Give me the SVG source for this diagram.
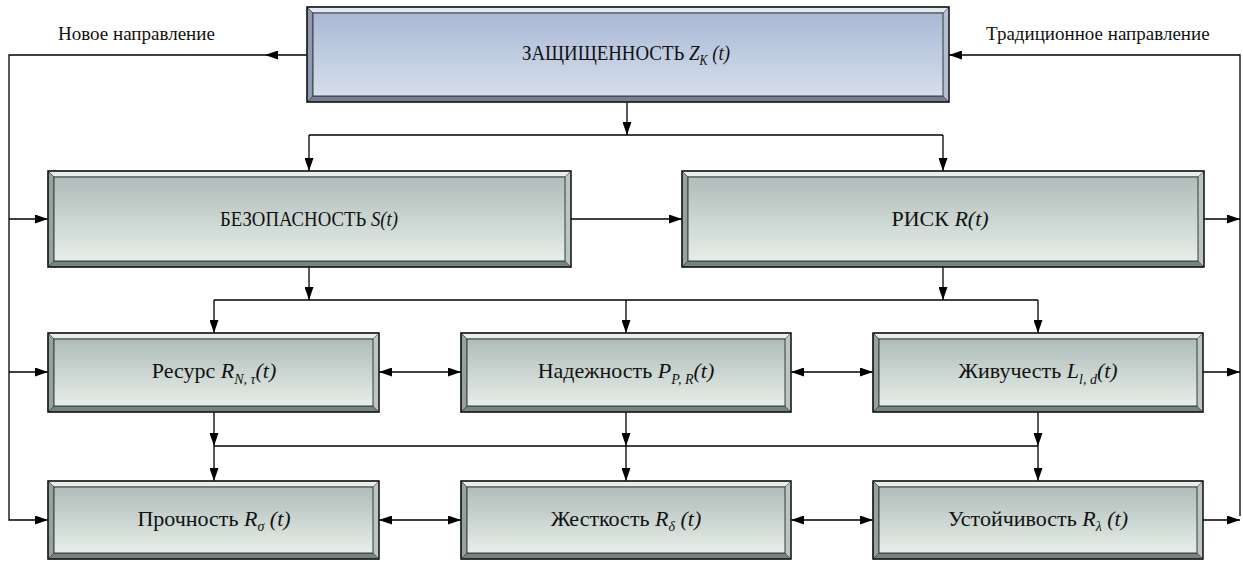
<svg xmlns="http://www.w3.org/2000/svg" width="1243" height="562" viewBox="0 0 1243 562">
<style>
.conn{fill:none;stroke:#000;stroke-width:1.3}
.bg{fill:#b9c6c2}
.bt{fill:#e8efe9;stroke:#3a3a3a;stroke-width:0.6}
.bl{fill:#94a39f;stroke:#3a3a3a;stroke-width:0.6}
.bb{fill:#76847f;stroke:#3a3a3a;stroke-width:0.6}
.face{fill:url(#gg);stroke:#2a2a2a;stroke-width:0.9}
.tbg{fill:#b5c0d4}
.tbt{fill:#e2e8f2;stroke:#3a3a3a;stroke-width:0.6}
.tbl{fill:#8e9ab0;stroke:#3a3a3a;stroke-width:0.6}
.tbb{fill:#737f96;stroke:#3a3a3a;stroke-width:0.6}
.tface{fill:url(#gb);stroke:#2a2a2a;stroke-width:0.9}
.out{fill:none;stroke:#1a1a1a;stroke-width:1.6}
.t{font-family:"Liberation Serif","DejaVu Serif","Times New Roman",serif;font-size:22px;fill:#111;text-anchor:middle}
.lab{font-family:"Liberation Serif","DejaVu Serif","Times New Roman",serif;font-size:19px;fill:#111}
.i{font-style:italic}
.s{font-style:italic;font-size:14px}
</style>
<defs>
<linearGradient id="gg" x1="0" y1="0" x2="0" y2="1">
<stop offset="0" stop-color="#afbcba"/>
<stop offset="1" stop-color="#e6eee8"/>
</linearGradient>
<linearGradient id="gb" x1="0" y1="0" x2="0" y2="1">
<stop offset="0" stop-color="#a9b8d5"/>
<stop offset="1" stop-color="#d6dfeb"/>
</linearGradient>
<marker id="ah" viewBox="0 0 13 9" refX="13" refY="4.5" markerWidth="13" markerHeight="9" markerUnits="userSpaceOnUse" orient="auto-start-reverse">
<path d="M0,0 L13,4.5 L0,9 z" fill="#000"/>
</marker>
</defs>

<g id="labels">
<text class="lab" x="58" y="40">Новое направление</text>
<text class="lab" x="986" y="40">Традиционное направление</text>
</g>

<g id="connectors">
<path class="conn" d="M307,55 H265" marker-end="url(#ah)"/>
<path class="conn" d="M265,55 H9 V520 H48" marker-end="url(#ah)"/>
<path class="conn" d="M9,219 H48" marker-end="url(#ah)"/>
<path class="conn" d="M9,372 H48" marker-end="url(#ah)"/>
<path class="conn" d="M1240,516 V55 H949" marker-end="url(#ah)"/>
<path class="conn" d="M1204,219 H1240" marker-end="url(#ah)"/>
<path class="conn" d="M1203,372 H1240" marker-end="url(#ah)"/>
<path class="conn" d="M1203,520 H1240" marker-end="url(#ah)"/>
<path class="conn" d="M627,102 V135" marker-end="url(#ah)"/>
<path class="conn" d="M309,135 H943"/>
<path class="conn" d="M309,135 V171" marker-end="url(#ah)"/>
<path class="conn" d="M943,135 V171" marker-end="url(#ah)"/>
<path class="conn" d="M571,219 H682" marker-end="url(#ah)"/>
<path class="conn" d="M309,267 V300" marker-end="url(#ah)"/>
<path class="conn" d="M943,267 V300" marker-end="url(#ah)"/>
<path class="conn" d="M214,300 H1038"/>
<path class="conn" d="M214,300 V333" marker-end="url(#ah)"/>
<path class="conn" d="M626,300 V333" marker-end="url(#ah)"/>
<path class="conn" d="M1038,300 V333" marker-end="url(#ah)"/>
<path class="conn" d="M379,372 H461" marker-start="url(#ah)" marker-end="url(#ah)"/>
<path class="conn" d="M791,372 H873" marker-start="url(#ah)" marker-end="url(#ah)"/>
<path class="conn" d="M214,412 V446" marker-end="url(#ah)"/>
<path class="conn" d="M626,412 V446" marker-end="url(#ah)"/>
<path class="conn" d="M1038,412 V446" marker-end="url(#ah)"/>
<path class="conn" d="M214,446 H1038"/>
<path class="conn" d="M214,446 V481" marker-end="url(#ah)"/>
<path class="conn" d="M626,446 V481" marker-end="url(#ah)"/>
<path class="conn" d="M1038,446 V481" marker-end="url(#ah)"/>
<path class="conn" d="M379,520 H461" marker-start="url(#ah)" marker-end="url(#ah)"/>
<path class="conn" d="M791,520 H873" marker-start="url(#ah)" marker-end="url(#ah)"/>
</g>

<g id="node-zk">
<rect class="tbg" x="307" y="7" width="642" height="95"/>
<polygon class="tbt" points="307,7 949,7 943,13 313,13"/>
<polygon class="tbl" points="307,7 313,13 313,96 307,102"/>
<polygon class="tbb" points="307,102 313,96 943,96 949,102"/>
<rect class="tface" x="313" y="13" width="630" height="83"/>
<rect class="out" x="307" y="7" width="642" height="95"/>
<text class="t" x="626" y="60" textLength="208" lengthAdjust="spacingAndGlyphs">ЗАЩИЩЕННОСТЬ <tspan class="i">Z</tspan><tspan class="s" dy="5">K</tspan><tspan class="i" dy="-5"> (t)</tspan></text>
</g>

<g id="node-s">
<rect class="bg" x="48" y="171" width="523" height="96"/>
<polygon class="bt" points="48,171 571,171 565,177 54,177"/>
<polygon class="bl" points="48,171 54,177 54,261 48,267"/>
<polygon class="bb" points="48,267 54,261 565,261 571,267"/>
<rect class="face" x="54" y="177" width="511" height="84"/>
<rect class="out" x="48" y="171" width="523" height="96"/>
<text class="t" x="309" y="226" textLength="178" lengthAdjust="spacingAndGlyphs">БЕЗОПАСНОСТЬ <tspan class="i">S(t)</tspan></text>
</g>

<g id="node-r">
<rect class="bg" x="682" y="171" width="522" height="96"/>
<polygon class="bt" points="682,171 1204,171 1198,177 688,177"/>
<polygon class="bl" points="682,171 688,177 688,261 682,267"/>
<polygon class="bb" points="682,267 688,261 1198,261 1204,267"/>
<rect class="face" x="688" y="177" width="510" height="84"/>
<rect class="out" x="682" y="171" width="522" height="96"/>
<text class="t" x="940" y="226">РИСК <tspan class="i">R(t)</tspan></text>
</g>

<g id="node-resurs">
<rect class="bg" x="48" y="333" width="331" height="79"/>
<polygon class="bt" points="48,333 379,333 373,339 54,339"/>
<polygon class="bl" points="48,333 54,339 54,406 48,412"/>
<polygon class="bb" points="48,412 54,406 373,406 379,412"/>
<rect class="face" x="54" y="339" width="319" height="67"/>
<rect class="out" x="48" y="333" width="331" height="79"/>
<text class="t" x="214" y="378">Ресурс <tspan class="i">R</tspan><tspan class="s" dy="6">N, τ</tspan><tspan class="i" dy="-6">(t)</tspan></text>
</g>

<g id="node-nadezhnost">
<rect class="bg" x="461" y="333" width="330" height="79"/>
<polygon class="bt" points="461,333 791,333 785,339 467,339"/>
<polygon class="bl" points="461,333 467,339 467,406 461,412"/>
<polygon class="bb" points="461,412 467,406 785,406 791,412"/>
<rect class="face" x="467" y="339" width="318" height="67"/>
<rect class="out" x="461" y="333" width="330" height="79"/>
<text class="t" x="626" y="378">Надежность <tspan class="i">P</tspan><tspan class="s" dy="6">P, R</tspan><tspan class="i" dy="-6">(t)</tspan></text>
</g>

<g id="node-zhivuchest">
<rect class="bg" x="873" y="333" width="330" height="79"/>
<polygon class="bt" points="873,333 1203,333 1197,339 879,339"/>
<polygon class="bl" points="873,333 879,339 879,406 873,412"/>
<polygon class="bb" points="873,412 879,406 1197,406 1203,412"/>
<rect class="face" x="879" y="339" width="318" height="67"/>
<rect class="out" x="873" y="333" width="330" height="79"/>
<text class="t" x="1038" y="378">Живучесть <tspan class="i">L</tspan><tspan class="s" dy="6">l, d</tspan><tspan class="i" dy="-6">(t)</tspan></text>
</g>

<g id="node-prochnost">
<rect class="bg" x="48" y="481" width="331" height="78"/>
<polygon class="bt" points="48,481 379,481 373,487 54,487"/>
<polygon class="bl" points="48,481 54,487 54,553 48,559"/>
<polygon class="bb" points="48,559 54,553 373,553 379,559"/>
<rect class="face" x="54" y="487" width="319" height="66"/>
<rect class="out" x="48" y="481" width="331" height="78"/>
<text class="t" x="214" y="526">Прочность <tspan class="i">R</tspan><tspan class="s" dy="5">σ</tspan><tspan class="i" dy="-5"> (t)</tspan></text>
</g>

<g id="node-zhestkost">
<rect class="bg" x="461" y="481" width="330" height="78"/>
<polygon class="bt" points="461,481 791,481 785,487 467,487"/>
<polygon class="bl" points="461,481 467,487 467,553 461,559"/>
<polygon class="bb" points="461,559 467,553 785,553 791,559"/>
<rect class="face" x="467" y="487" width="318" height="66"/>
<rect class="out" x="461" y="481" width="330" height="78"/>
<text class="t" x="626" y="526">Жесткость <tspan class="i">R</tspan><tspan class="s" dy="5">δ</tspan><tspan class="i" dy="-5"> (t)</tspan></text>
</g>

<g id="node-ustoychivost">
<rect class="bg" x="873" y="481" width="330" height="78"/>
<polygon class="bt" points="873,481 1203,481 1197,487 879,487"/>
<polygon class="bl" points="873,481 879,487 879,553 873,559"/>
<polygon class="bb" points="873,559 879,553 1197,553 1203,559"/>
<rect class="face" x="879" y="487" width="318" height="66"/>
<rect class="out" x="873" y="481" width="330" height="78"/>
<text class="t" x="1038" y="526">Устойчивость <tspan class="i">R</tspan><tspan class="s" dy="5">λ</tspan><tspan class="i" dy="-5"> (t)</tspan></text>
</g>
</svg>
